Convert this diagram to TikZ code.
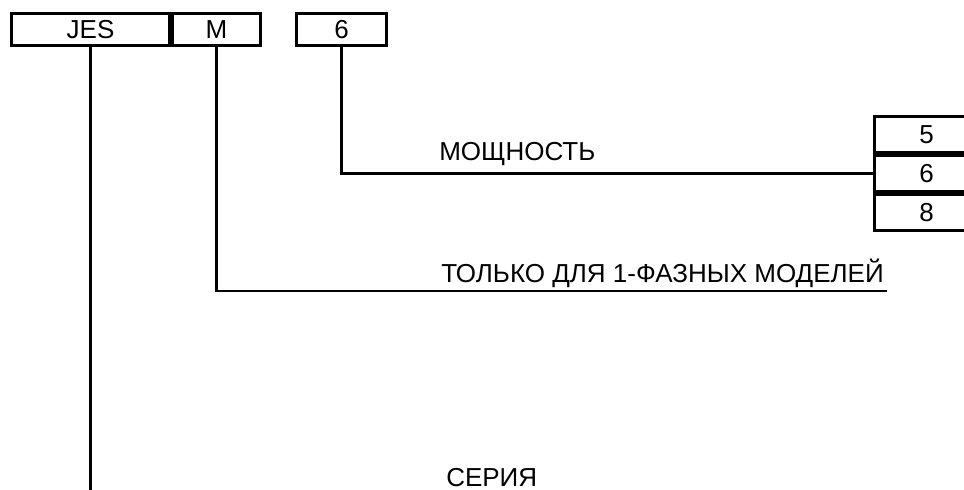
\documentclass[tikz,border=0pt]{standalone}
\usepackage{fontspec}
\setmainfont{Liberation Sans}
\usetikzlibrary{positioning}
\usetikzlibrary{calc}

\begin{document}
\begin{tikzpicture}[
	x=1pt, y=-1pt,
	line width=2.5pt,
	font=\fontsize{26}{30}\selectfont,
	codebox/.style={draw, line width=3pt, rectangle, inner sep=0pt, minimum height=32pt, anchor=north west},
	optbox/.style={draw, line width=3pt, rectangle, inner sep=0pt, minimum height=36pt, minimum width=104pt, anchor=north west},
	caption/.style={anchor=base west, inner sep=0pt}]

\useasboundingbox (0,0) rectangle (964,490);

% code fields on top
\node[codebox, minimum width=158pt] (series) at (10,12) {JES};
\node[codebox, minimum width=88pt] (phase) at (series.north east) {M};
\node[codebox, minimum width=90pt] (power) at (295,12) {6};

% power options on the right
\node[optbox] (opt5) at (873,115) {5};
\node[optbox] (opt6) at (opt5.south west) {6};
\node[optbox] (opt8) at (opt6.south west) {8};

% captions
\node[caption] (powertext) at (438,160) {МОЩНОСТЬ};
\node[caption] (phasetext) at (440,282) {ТОЛЬКО ДЛЯ 1-ФАЗНЫХ МОДЕЛЕЙ};
\node[caption] (seriestext) at (445,486) {СЕРИЯ};

% leader lines
\coordinate (phaseend) at (887,291);
\coordinate (seriesend) at (89,490);
\draw (power.south) |- (opt6.west);
\draw (phase.south) |- (phaseend);
\draw (series.south) -- (series.south |- seriesend);

\end{tikzpicture}
\end{document}
